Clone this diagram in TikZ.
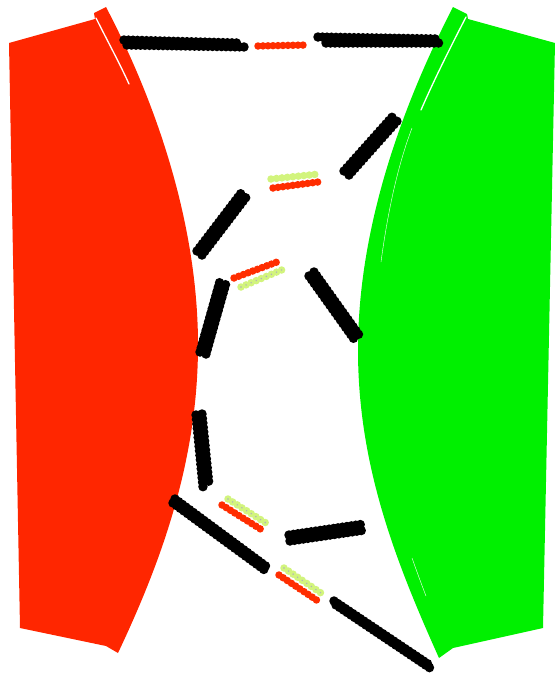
\documentclass[tikz,border=0pt]{standalone}
\begin{document}
\definecolor{lobered}{RGB}{255,38,0}
\definecolor{lobegreen}{RGB}{0,240,0}
\definecolor{beadred}{RGB}{255,45,0}
\definecolor{beadyellow}{RGB}{210,244,125}
\definecolor{beadcore}{RGB}{175,175,190}
\begin{tikzpicture}[x=1pt,y=-1pt,
  blackbeads/.style={line width=9.5pt,line cap=round,dash pattern=on 0pt off 4.5pt,black},
  redbeads/.style={line width=7.5pt,line cap=round,dash pattern=on 0pt off 5pt,beadred},
  yellowbeads/.style={line width=7.5pt,line cap=round,dash pattern=on 0pt off 5.5pt,beadyellow},
  beadcores/.style={line width=1.6pt,line cap=round,dash pattern=on 0pt off 5.5pt,beadcore},
  gap/.style={white,line width=1.3pt,line cap=round}]
\useasboundingbox (0,0) rectangle (556,681);

% left lobe
\fill[lobered] (9,43) -- (95,19) -- (94,13) -- (106,7)
  .. controls (160,110) and (198,230) .. (198,345)
  .. controls (198,460) and (162,560) .. (118,653)
  -- (106,646) -- (20,628) -- cycle;
\draw[gap] (96,18) .. controls (108,42) and (120,64) .. (129,84);

% right lobe
\fill[lobegreen] (555,43) -- (468,19) -- (467,14) -- (453,7)
  .. controls (400,110) and (358,230) .. (358,350)
  .. controls (358,465) and (395,560) .. (439,658)
  -- (453,648) -- (543,628) -- cycle;
\draw[gap] (466,17) .. controls (450,48) and (434,80) .. (421,110);
\draw[white,line width=0.4pt] (412,128) .. controls (398,165) and (388,210) .. (381,262);
\draw[white,line width=0.4pt] (412,558) .. controls (417,572) and (421,583) .. (426,596);

% black bead chains (two strands each)
\draw[blackbeads] (124,40) -- (238,43);
\draw[blackbeads] (127,45) -- (246,47);
\draw[blackbeads] (318,37) -- (439,39);
\draw[blackbeads] (326,43) -- (439,43);

\draw[blackbeads] (344,171) -- (394,115);
\draw[blackbeads] (349,175) -- (398,120);

\draw[blackbeads] (197,251) -- (242,192);
\draw[blackbeads] (202,255) -- (247,196);

\draw[blackbeads] (200,352) -- (220,281);
\draw[blackbeads] (206,354) -- (226,283);

\draw[blackbeads] (309,276) -- (354,339);
\draw[blackbeads] (314,272) -- (359,335);

\draw[blackbeads] (196,415) -- (203,487);
\draw[blackbeads] (202,414) -- (209,485);

\draw[blackbeads] (175,499) -- (267,567);
\draw[blackbeads] (173,503) -- (266,571);

\draw[blackbeads] (289,535) -- (364,524);
\draw[blackbeads] (290,541) -- (365,530);

\draw[blackbeads] (334,601) -- (431,666);
\draw[blackbeads] (336,605) -- (433,670);

% red and yellow bead pairs
\draw[redbeads] (258,46) -- (306,45);

\draw[yellowbeads] (271,179) -- (319,174);
\draw[redbeads] (273,188) -- (318,182);

\draw[redbeads] (234,278) -- (277,262);
\draw[yellowbeads] (241,287) -- (284,269);
\draw[beadcores] (241,287) -- (284,269);

\draw[yellowbeads] (228,499) -- (266,523);
\draw[beadcores] (228,499) -- (266,523);
\draw[redbeads] (222,505) -- (262,530);

\draw[yellowbeads] (284,568) -- (321,593);
\draw[beadcores] (284,568) -- (321,593);
\draw[redbeads] (279,575) -- (318,601);
\end{tikzpicture}
\end{document}
